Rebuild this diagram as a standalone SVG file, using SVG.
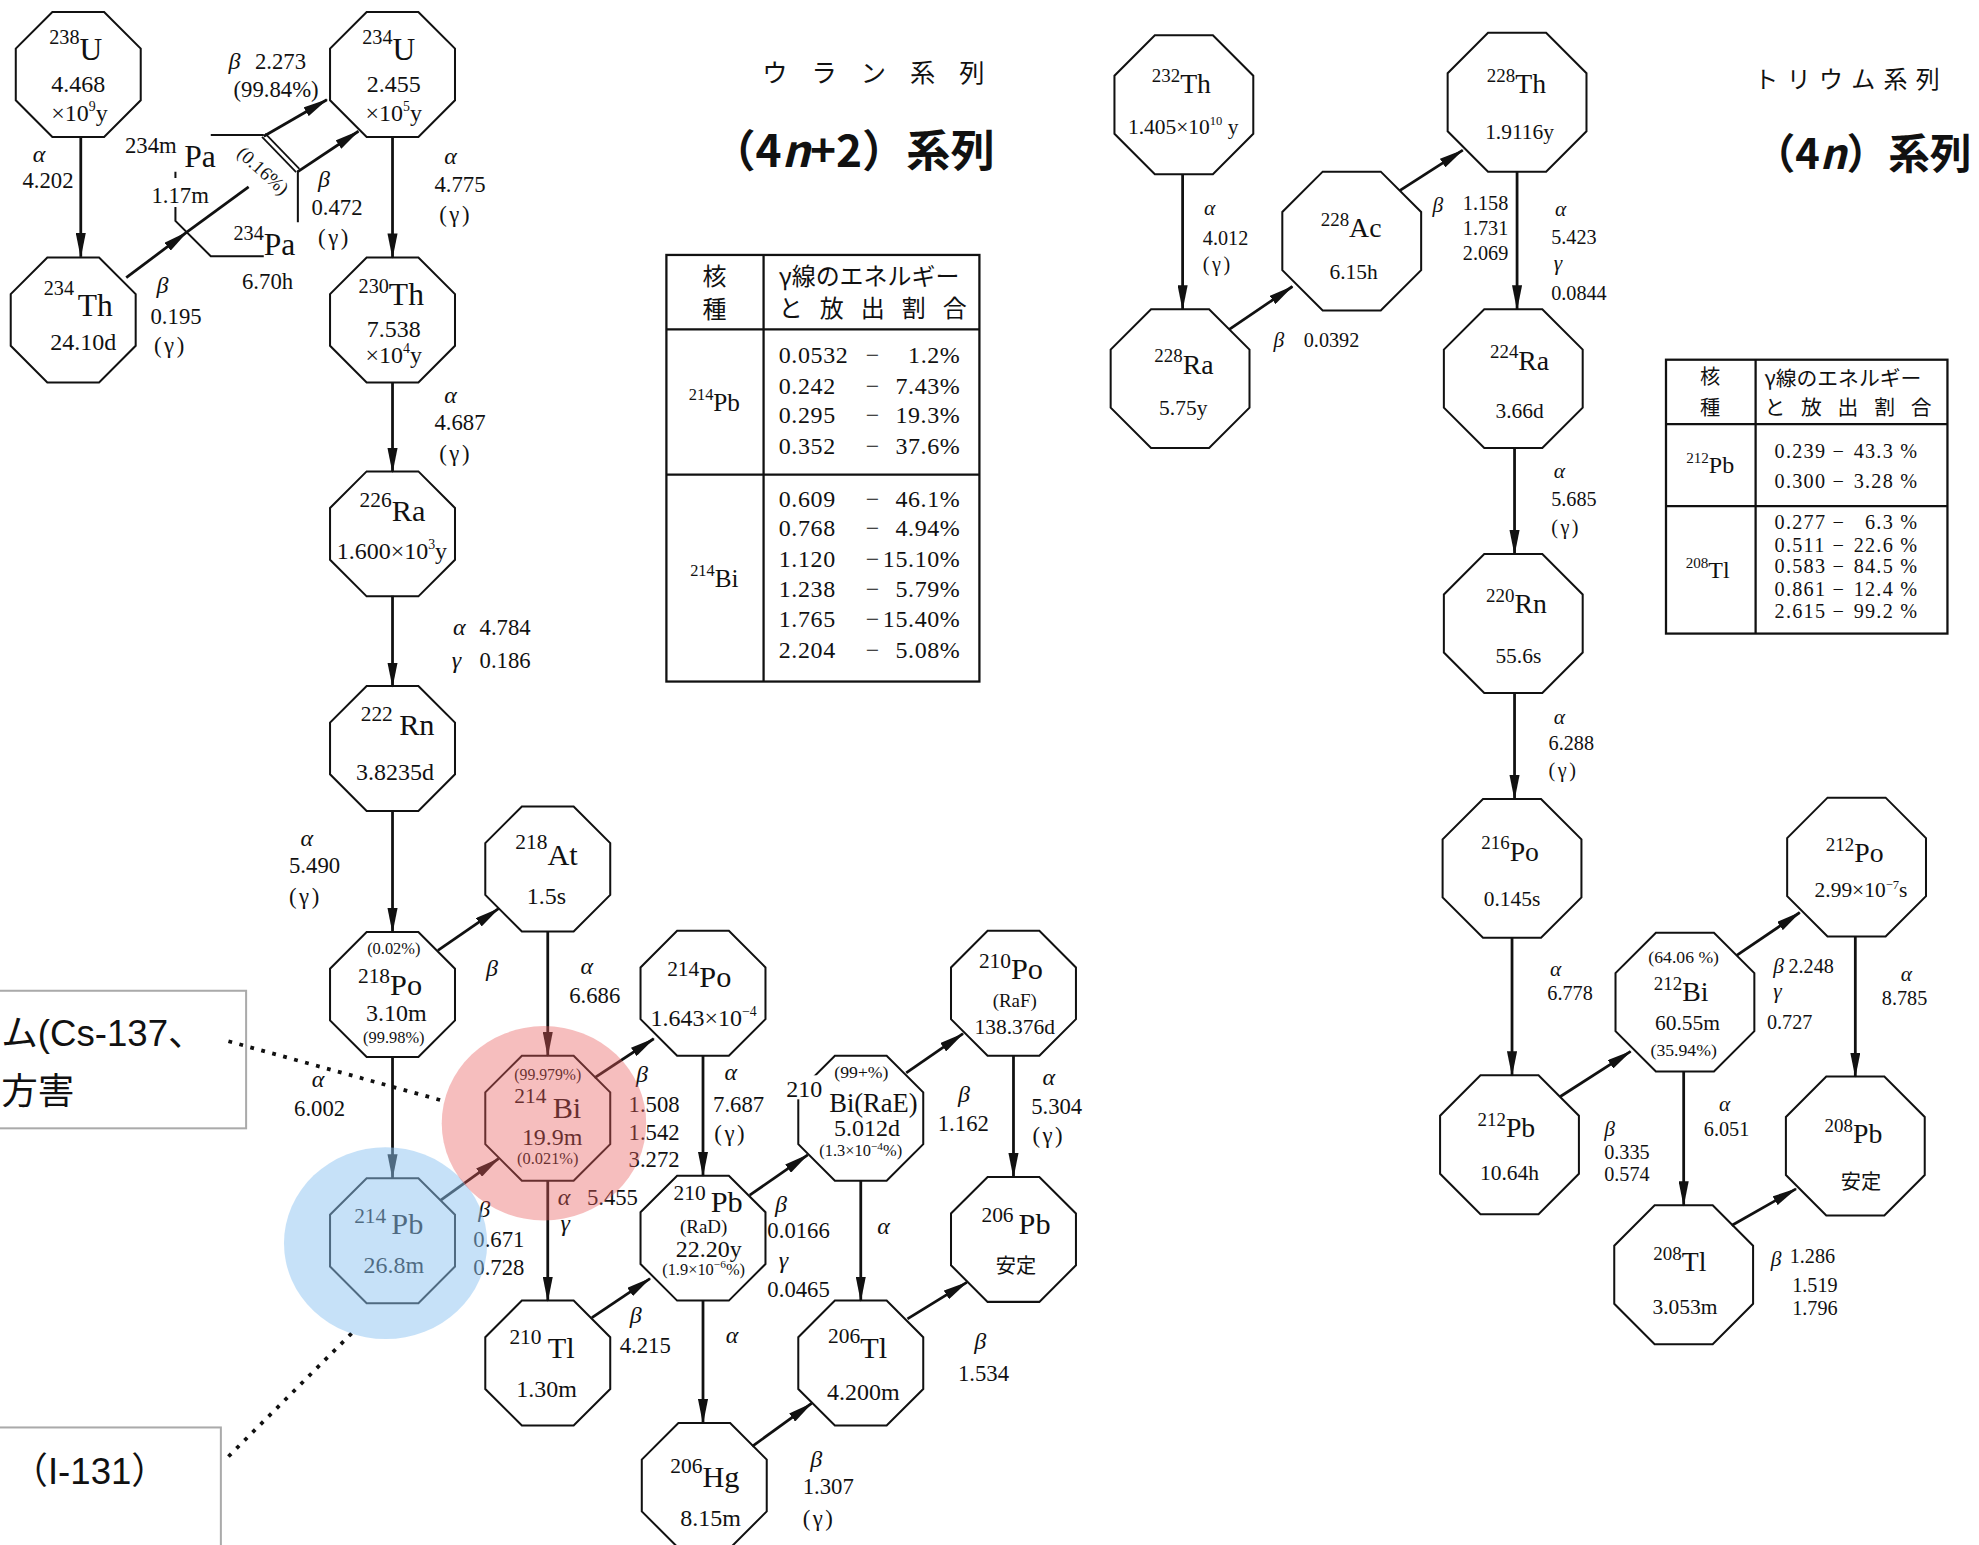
<svg xmlns="http://www.w3.org/2000/svg" width="1979" height="1545" viewBox="0 0 1979 1545">
<defs>
<style>
text{font-family:"Liberation Serif","DejaVu Serif",serif;fill:#111}
.o{fill:#fff;stroke:#111;stroke-width:1.6}
.a{stroke:#111;stroke-width:2.2;fill:none;marker-end:url(#ah)}
.l{stroke:#111;stroke-width:2.2;fill:none}
.c{text-anchor:middle}
.ue{font-size:25px}
.um{font-size:16px}
.uh{font-size:19px}
.up{font-size:13px}
.ud{font-size:18px}
.ug{font-size:19px;font-style:italic}
.le{font-size:24px}
.lm{font-size:17px}
.te{font-size:22px}
.tm{font-size:15px}
.th{font-size:17px}
.tp{font-size:14px}
.td{font-size:16px}
.tg{font-size:17px;font-style:italic}
.sp{letter-spacing:2px}
.jp{font-family:"Noto Sans CJK JP",sans-serif}
.tb{fill:none;stroke:#111;stroke-width:1.8}
.tv{font-size:19px;letter-spacing:0.5px}
.tv2{font-size:16px;letter-spacing:1px}
.note{font-family:"Liberation Sans","Noto Sans CJK JP",sans-serif;font-size:29px}
.box{fill:#fff;stroke:#aaa;stroke-width:1.6}
.dot{stroke:#111;stroke-width:3;stroke-dasharray:3 6;fill:none}
</style>
<path id="oU" d="M-20.5,-49.5H20.5L49.5,-20.5V20.5L20.5,49.5H-20.5L-49.5,20.5V-20.5Z"/>
<path id="oT" d="M-23,-55H23L55,-23V23L23,55H-23L-55,23V-23Z"/>
<marker id="ah" viewBox="0 0 20 8" refX="19" refY="4" markerWidth="20" markerHeight="8" markerUnits="userSpaceOnUse" orient="auto"><path d="M0,0L20,4L0,8Z" fill="#111"/></marker>
</defs>
<rect width="1979" height="1545" fill="#fff"/>
<g transform="scale(1.26212)">

<g id="nodes">
<g id="n-238U">
<use href="#oU" x="62" y="59" class="o"/>
<text class="c" x="60" y="47.5"><tspan class="um" dy="-13">238</tspan><tspan class="ue" dy="13">U</tspan></text>
<text class="c uh" x="62" y="73">4.468</text>
<text class="c uh" x="63" y="96">×10<tspan font-size="11" dy="-8">9</tspan><tspan dy="8">y</tspan></text>
</g>
<g id="n-234Th">
<use href="#oU" x="58" y="253.5" class="o"/>
<text class="c" x="62" y="250"><tspan class="um" dy="-16">234</tspan><tspan class="ue" dx="3" dy="16">Th</tspan></text>
<text class="c uh" x="66" y="277">24.10d</text>
</g>
<g id="n-234U">
<use href="#oU" x="311" y="59" class="o"/>
<text class="c" x="308" y="47.5"><tspan class="um" dy="-13">234</tspan><tspan class="ue" dy="13">U</tspan></text>
<text class="c uh" x="312" y="73">2.455</text>
<text class="c uh" x="312" y="96">×10<tspan font-size="11" dy="-8">5</tspan><tspan dy="8">y</tspan></text>
</g>
<g id="n-234Pa">
<path fill="none" stroke="#111" stroke-width="1.6" d="M167,107H209M236,135V176M209,203H167L139,175V164M139,141V136"/>
<line x1="210.2" y1="105.8" x2="237.2" y2="133.8" stroke="#111" stroke-width="1.4"/>
<line x1="207.6" y1="108.4" x2="234.6" y2="136.4" stroke="#111" stroke-width="1.4"/>
<text font-size="15" class="c" transform="translate(205,139) rotate(42)">(0.16%)</text>
<text x="99" y="121.5" font-size="18">234m</text>
<text x="146" y="132" class="ue">Pa</text>
<text x="120" y="161" font-size="18">1.17m</text>
<text x="185" y="202"><tspan class="um" dy="-12">234</tspan><tspan class="ue" dy="12">Pa</tspan></text>
<text class="c" x="212" y="229" font-size="18">6.70h</text>
</g>
<g id="n-230Th">
<use href="#oU" x="311" y="253.5" class="o"/>
<text class="c" x="310" y="242"><tspan class="um" dy="-10">230</tspan><tspan class="ue" dy="10">Th</tspan></text>
<text class="c uh" x="312" y="267">7.538</text>
<text class="c uh" x="312" y="288">×10<tspan font-size="11" dy="-8">4</tspan><tspan dy="8">y</tspan></text>
</g>
<g id="n-226Ra">
<use href="#oU" x="311" y="423" class="o"/>
<text class="c" x="311" y="413"><tspan class="lm" dy="-11">226</tspan><tspan class="le" dy="11">Ra</tspan></text>
<text class="c uh" x="310.5" y="443">1.600×10<tspan font-size="11" dy="-8">3</tspan><tspan dy="8">y</tspan></text>
</g>
<g id="n-222Rn">
<use href="#oU" x="311" y="593" class="o"/>
<text class="c" x="315" y="582.5"><tspan class="lm" dy="-11.5">222</tspan><tspan class="le" dx="5" dy="11.5">Rn</tspan></text>
<text class="c uh" x="313" y="618">3.8235d</text>
</g>
<g id="n-218Po">
<use href="#oU" x="311" y="788" class="o"/>
<text class="c up" x="312" y="756">(0.02%)</text>
<text class="c" x="309" y="788"><tspan class="lm" dy="-9">218</tspan><tspan class="le" dy="9">Po</tspan></text>
<text class="c uh" x="314" y="809">3.10m</text>
<text class="c up" x="312" y="826">(99.98%)</text>
</g>
<g id="n-218At">
<use href="#oU" x="434" y="688.5" class="o"/>
<text class="c" x="433" y="685"><tspan class="lm" dy="-12">218</tspan><tspan class="le" dy="12">At</tspan></text>
<text class="c uh" x="433" y="716">1.5s</text>
</g>
<g id="n-214Pb">
<use href="#oU" x="311" y="983" class="o"/>
<text class="c" x="308" y="978"><tspan class="lm" dy="-9">214</tspan><tspan class="le" dx="4" dy="9">Pb</tspan></text>
<text class="c uh" x="312" y="1009">26.8m</text>
</g>
<g id="n-214Bi">
<use href="#oU" x="434" y="886" class="o"/>
<text class="c" x="434" y="856" font-size="12.5">(99.979%)</text>
<text class="c" x="434" y="886"><tspan class="lm" dy="-12">214</tspan><tspan class="le" dx="5" dy="12">Bi</tspan></text>
<text class="c uh" x="437.5" y="907">19.9m</text>
<text class="c up" x="434" y="922">(0.021%)</text>
</g>
<g id="n-210Tl">
<use href="#oU" x="434" y="1080" class="o"/>
<text class="c" x="429.5" y="1076"><tspan class="lm" dy="-11">210</tspan><tspan class="le" dx="5" dy="11">Tl</tspan></text>
<text class="c uh" x="433" y="1107">1.30m</text>
</g>
<g id="n-214Po">
<use href="#oU" x="557" y="787" class="o"/>
<text class="c" x="554" y="782"><tspan class="lm" dy="-9">214</tspan><tspan class="le" dy="9">Po</tspan></text>
<text class="c uh" x="557.5" y="813">1.643×10<tspan font-size="11" dy="-8">−4</tspan></text>
</g>
<g id="n-210Pb">
<use href="#oU" x="557" y="981" class="o"/>
<text class="c" x="561" y="960"><tspan class="lm" dy="-9">210</tspan><tspan class="le" dx="4" dy="9">Pb</tspan></text>
<text class="c" x="557.5" y="977" font-size="15">(RaD)</text>
<text class="c uh" x="561.5" y="996">22.20y</text>
<text class="c up" x="557.5" y="1010">(1.9×10<tspan font-size="9" dy="-5">−6</tspan><tspan dy="5">%)</tspan></text>
</g>
<g id="n-206Hg">
<use href="#oU" x="558" y="1177" class="o"/>
<text class="c" x="558.5" y="1178"><tspan class="lm" dy="-11">206</tspan><tspan class="le" dy="11">Hg</tspan></text>
<text class="c uh" x="563" y="1209">8.15m</text>
</g>
<g id="n-210Bi">
<use href="#oU" x="682" y="886" class="o"/>
<rect x="620" y="852" width="33" height="19" fill="#fff"/>
<text class="c" x="682.5" y="854" font-size="14">(99+%)</text>
<text x="623" y="869" font-size="19">210</text>
<text x="657" y="881" font-size="21">Bi(RaE)</text>
<text class="c uh" x="687" y="900">5.012d</text>
<text class="c up" x="682" y="916">(1.3×10<tspan font-size="9" dy="-5">−4</tspan><tspan dy="5">%)</tspan></text>
</g>
<g id="n-206Tl">
<use href="#oU" x="682" y="1080" class="o"/>
<text class="c" x="679.5" y="1076"><tspan class="lm" dy="-12">206</tspan><tspan class="le" dy="12">Tl</tspan></text>
<text class="c uh" x="684" y="1109">4.200m</text>
</g>
<g id="n-210Po">
<use href="#oU" x="803" y="787" class="o"/>
<text class="c" x="801" y="776"><tspan class="lm" dy="-9">210</tspan><tspan class="le" dy="9">Po</tspan></text>
<text class="c" x="804" y="798" font-size="15">(RaF)</text>
<text class="c" x="804" y="819" font-size="17">138.376d</text>
</g>
<g id="n-206Pb">
<use href="#oU" x="803" y="982" class="o"/>
<text class="c" x="805" y="978"><tspan class="lm" dy="-10">206</tspan><tspan class="le" dx="4" dy="10">Pb</tspan></text>
<text class="c jp" x="805" y="1009" font-size="16">安定</text>
</g>

<g id="n-232Th">
<use href="#oT" x="938" y="83" class="o"/>
<text class="c" x="936" y="74"><tspan class="tm" dy="-9">232</tspan><tspan class="te" dy="9">Th</tspan></text>
<text class="c th" x="937.5" y="106">1.405×10<tspan font-size="10" dy="-7">10</tspan><tspan dy="7"> y</tspan></text>
</g>
<g id="n-228Ra">
<use href="#oT" x="935" y="300" class="o"/>
<text class="c" x="938" y="296"><tspan class="tm" dy="-9">228</tspan><tspan class="te" dy="9">Ra</tspan></text>
<text class="c th" x="937.5" y="329">5.75y</text>
</g>
<g id="n-228Ac">
<use href="#oT" x="1071" y="191" class="o"/>
<text class="c" x="1070.5" y="188"><tspan class="tm" dy="-9">228</tspan><tspan class="te" dy="9">Ac</tspan></text>
<text class="c th" x="1072.5" y="221">6.15h</text>
</g>
<g id="n-228Th">
<use href="#oT" x="1202" y="81" class="o"/>
<text class="c" x="1201.5" y="74"><tspan class="tm" dy="-9">228</tspan><tspan class="te" dy="9">Th</tspan></text>
<text class="c th" x="1204" y="110">1.9116y</text>
</g>
<g id="n-224Ra">
<use href="#oT" x="1199" y="300" class="o"/>
<text class="c" x="1204" y="293"><tspan class="tm" dy="-9">224</tspan><tspan class="te" dy="9">Ra</tspan></text>
<text class="c th" x="1204" y="331">3.66d</text>
</g>
<g id="n-220Rn">
<use href="#oT" x="1199" y="494" class="o"/>
<text class="c" x="1201.5" y="486"><tspan class="tm" dy="-9">220</tspan><tspan class="te" dy="9">Rn</tspan></text>
<text class="c th" x="1203" y="525">55.6s</text>
</g>
<g id="n-216Po">
<use href="#oT" x="1198" y="688" class="o"/>
<text class="c" x="1196.5" y="682"><tspan class="tm" dy="-9">216</tspan><tspan class="te" dy="9">Po</tspan></text>
<text class="c th" x="1198" y="718">0.145s</text>
</g>
<g id="n-212Pb">
<use href="#oT" x="1196" y="907" class="o"/>
<text class="c" x="1193.5" y="901"><tspan class="tm" dy="-9">212</tspan><tspan class="te" dy="9">Pb</tspan></text>
<text class="c th" x="1196" y="935">10.64h</text>
</g>
<g id="n-212Bi">
<use href="#oT" x="1335" y="794" class="o"/>
<text class="c tp" x="1334" y="763">(64.06 %)</text>
<text class="c" x="1332" y="793"><tspan class="tm" dy="-9">212</tspan><tspan class="te" dy="9">Bi</tspan></text>
<text class="c th" x="1337" y="816">60.55m</text>
<text class="c tp" x="1334" y="837">(35.94%)</text>
</g>
<g id="n-212Po">
<use href="#oT" x="1471" y="687" class="o"/>
<text class="c" x="1469.5" y="683"><tspan class="tm" dy="-9">212</tspan><tspan class="te" dy="9">Po</tspan></text>
<text class="c th" x="1474.5" y="711">2.99×10<tspan font-size="10" dy="-7">−7</tspan><tspan dy="7">s</tspan></text>
</g>
<g id="n-208Pb">
<use href="#oT" x="1470" y="908" class="o"/>
<text class="c" x="1468.5" y="906"><tspan class="tm" dy="-9">208</tspan><tspan class="te" dy="9">Pb</tspan></text>
<text class="c jp" x="1474.5" y="942" font-size="16">安定</text>
</g>
<g id="n-208Tl">
<use href="#oT" x="1334" y="1010" class="o"/>
<text class="c" x="1331" y="1007"><tspan class="tm" dy="-9">208</tspan><tspan class="te" dy="9">Tl</tspan></text>
<text class="c th" x="1335" y="1041">3.053m</text>
</g>
</g>

<g id="connectors">
<line class="a" x1="64" y1="108" x2="64" y2="203.5"/>
<line class="a" x1="100" y1="220" x2="148" y2="184"/>
<line class="l" x1="148" y1="184" x2="197" y2="148"/>
<line class="a" x1="209" y1="108" x2="259" y2="79"/>
<line class="a" x1="236" y1="136" x2="284" y2="104"/>
<line class="a" x1="311" y1="108.5" x2="311" y2="204"/>
<line class="a" x1="311" y1="303" x2="311" y2="374"/>
<line class="a" x1="311" y1="472" x2="311" y2="544"/>
<line class="a" x1="311" y1="642" x2="311" y2="738.5"/>
<line class="a" x1="347" y1="753" x2="395" y2="720"/>
<line class="a" x1="311" y1="837.5" x2="311" y2="933.5"/>
<line class="a" x1="434" y1="738" x2="434" y2="836.5"/>
<line class="a" x1="349" y1="951" x2="395" y2="918"/>
<line class="a" x1="471" y1="854" x2="518" y2="823"/>
<line class="a" x1="434" y1="935.5" x2="434" y2="1030.5"/>
<line class="a" x1="557" y1="836.5" x2="557" y2="931.5"/>
<line class="a" x1="469" y1="1044" x2="515" y2="1013"/>
<line class="a" x1="594" y1="947" x2="640" y2="915"/>
<line class="a" x1="557" y1="1030.5" x2="557" y2="1127.5"/>
<line class="a" x1="718" y1="850" x2="763" y2="819"/>
<line class="a" x1="682" y1="935.5" x2="682" y2="1030.5"/>
<line class="a" x1="803" y1="836.5" x2="803" y2="932.5"/>
<line class="a" x1="596" y1="1146" x2="643" y2="1112"/>
<line class="a" x1="719" y1="1045" x2="766" y2="1016"/>
<line class="a" x1="937" y1="138" x2="937" y2="245"/>
<line class="a" x1="974" y1="261" x2="1024" y2="227"/>
<line class="a" x1="1109" y1="151" x2="1159" y2="119"/>
<line class="a" x1="1202" y1="136" x2="1202" y2="245"/>
<line class="a" x1="1200" y1="355" x2="1200" y2="439"/>
<line class="a" x1="1200" y1="549" x2="1200" y2="633"/>
<line class="a" x1="1198" y1="743" x2="1198" y2="852"/>
<line class="a" x1="1236" y1="869" x2="1292" y2="833"/>
<line class="a" x1="1376" y1="757" x2="1426" y2="723"/>
<line class="a" x1="1470" y1="742" x2="1470" y2="853"/>
<line class="a" x1="1334" y1="849" x2="1334" y2="955"/>
<line class="a" x1="1372" y1="971" x2="1423" y2="942"/>
</g>

<g id="decay-labels">
<text class="ug" x="26" y="128">α</text>
<text class="ud c" x="38" y="149">4.202</text>
<text class="ug" x="181" y="55">β</text>
<text class="ud" x="202" y="55">2.273</text>
<text class="ud" x="185" y="77">(99.84%)</text>
<text class="ug" x="124" y="232">β</text>
<text class="ud c" x="139.5" y="257">0.195</text>
<text class="ud c sp" x="135" y="280">(γ)</text>
<text class="ug" x="252" y="148">β</text>
<text class="ud c" x="267" y="170">0.472</text>
<text class="ud c sp" x="265" y="194">(γ)</text>
<text class="ug" x="352" y="130">α</text>
<text class="ud c" x="364.5" y="152">4.775</text>
<text class="ud c sp" x="361" y="176">(γ)</text>
<text class="ug" x="352" y="319">α</text>
<text class="ud c" x="364.5" y="341">4.687</text>
<text class="ud c sp" x="361" y="365">(γ)</text>
<text class="ug" x="359" y="503">α</text>
<text class="ud" x="380" y="503">4.784</text>
<text class="ug" x="358" y="529">γ</text>
<text class="ud" x="380" y="529">0.186</text>
<text class="ug" x="238" y="670">α</text>
<text class="ud" x="229" y="692">5.490</text>
<text class="ud sp" x="229" y="716">(γ)</text>
<text class="ug" x="247" y="861">α</text>
<text class="ud" x="233" y="884">6.002</text>
<text class="ug" x="385" y="773">β</text>
<text class="ug" x="460" y="772">α</text>
<text class="ud" x="451" y="795">6.686</text>
<text class="ug" x="504" y="857">β</text>
<text class="ud" x="498" y="881">1.508</text>
<text class="ud" x="498" y="903">1.542</text>
<text class="ud" x="498" y="925">3.272</text>
<text class="ug" x="574" y="856">α</text>
<text class="ud" x="565" y="881">7.687</text>
<text class="ud sp" x="566" y="904">(γ)</text>
<text class="ug" x="442" y="955">α</text>
<text class="ud" x="465" y="955">5.455</text>
<text class="ug" x="444" y="975">γ</text>
<text class="ug" x="379" y="964">β</text>
<text class="ud" x="375" y="988">0.671</text>
<text class="ud" x="375" y="1010">0.728</text>
<text class="ug" x="499" y="1048">β</text>
<text class="ud" x="491" y="1072">4.215</text>
<text class="ug" x="614" y="960">β</text>
<text class="ud" x="608" y="981">0.0166</text>
<text class="ug" x="617" y="1005">γ</text>
<text class="ud" x="608" y="1028">0.0465</text>
<text class="ug" x="759" y="873">β</text>
<text class="ud" x="743" y="896">1.162</text>
<text class="ug" x="695" y="978">α</text>
<text class="ug" x="826" y="860">α</text>
<text class="ud" x="817" y="883">5.304</text>
<text class="ud sp" x="818" y="906">(γ)</text>
<text class="ug" x="575" y="1064">α</text>
<text class="ug" x="772" y="1069">β</text>
<text class="ud" x="759" y="1094">1.534</text>
<text class="ug" x="642" y="1162">β</text>
<text class="ud" x="636" y="1184">1.307</text>
<text class="ud sp" x="636" y="1209">(γ)</text>

<text class="tg" x="954" y="170">α</text>
<text class="td" x="953" y="194">4.012</text>
<text class="td sp" x="953" y="215">(γ)</text>
<text class="tg" x="1009" y="275">β</text>
<text class="td" x="1033" y="275">0.0392</text>
<text class="tg" x="1135" y="168">β</text>
<text class="td" x="1159" y="166">1.158</text>
<text class="td" x="1159" y="186">1.731</text>
<text class="td" x="1159" y="206">2.069</text>
<text class="tg" x="1232" y="171">α</text>
<text class="td" x="1229" y="193">5.423</text>
<text class="tg" x="1231" y="214">γ</text>
<text class="td" x="1229" y="238">0.0844</text>
<text class="tg" x="1231" y="379">α</text>
<text class="td" x="1229" y="401">5.685</text>
<text class="td sp" x="1229" y="423">(γ)</text>
<text class="tg" x="1231" y="574">α</text>
<text class="td" x="1227" y="594">6.288</text>
<text class="td sp" x="1227" y="616">(γ)</text>
<text class="tg" x="1228" y="773">α</text>
<text class="td" x="1226" y="792">6.778</text>
<text class="tg" x="1271" y="900">β</text>
<text class="td" x="1271" y="918">0.335</text>
<text class="td" x="1271" y="936">0.574</text>
<text class="tg" x="1362" y="880">α</text>
<text class="td" x="1350" y="900">6.051</text>
<text class="tg" x="1405" y="771">β</text>
<text class="td" x="1417" y="771">2.248</text>
<text class="tg" x="1405" y="791">γ</text>
<text class="td" x="1400" y="815">0.727</text>
<text class="tg" x="1506" y="777">α</text>
<text class="td" x="1491" y="796">8.785</text>
<text class="tg" x="1403" y="1003">β</text>
<text class="td" x="1418" y="1001">1.286</text>
<text class="td" x="1420" y="1024">1.519</text>
<text class="td" x="1420" y="1042">1.796</text>
</g>

<g id="titles">
<text class="jp" x="604" y="65" font-size="20" letter-spacing="19">ウラン系列</text>
<text class="jp" x="788" y="132" text-anchor="end" font-size="35" font-weight="bold">（4<tspan font-style="italic">n</tspan>+2）系列</text>
<text class="jp" x="1390" y="70" font-size="19" letter-spacing="6.6">トリウム系列</text>
<text class="jp" x="1562" y="134" text-anchor="end" font-size="33" font-weight="bold">（4<tspan font-style="italic">n</tspan>）系列</text>
</g>

<g id="table-4n2">
<rect class="tb" x="528" y="202" width="248" height="338"/>
<path class="tb" d="M605,202V540M528,261H776M528,376H776"/>
<text class="jp c" x="566" y="226" font-size="19">核</text>
<text class="jp c" x="566" y="252" font-size="19">種</text>
<text class="jp" x="617" y="226" font-size="19">γ線のエネルギー</text>
<text class="jp" x="617" y="251" font-size="19" letter-spacing="13.5">と放出割合</text>
<text class="c" x="566" y="326"><tspan font-size="13" dy="-9">214</tspan><tspan font-size="20" dy="9">Pb</tspan></text>
<text class="c" x="566" y="465"><tspan font-size="13" dy="-9">214</tspan><tspan font-size="20" dy="9">Bi</tspan></text>
<g class="tv">
<text x="617" y="288">0.0532</text><text x="686" y="288">−</text><text x="761" y="288" text-anchor="end">1.2%</text>
<text x="617" y="312">0.242</text><text x="686" y="312">−</text><text x="761" y="312" text-anchor="end">7.43%</text>
<text x="617" y="335">0.295</text><text x="686" y="335">−</text><text x="761" y="335" text-anchor="end">19.3%</text>
<text x="617" y="360">0.352</text><text x="686" y="360">−</text><text x="761" y="360" text-anchor="end">37.6%</text>
<text x="617" y="402">0.609</text><text x="686" y="402">−</text><text x="761" y="402" text-anchor="end">46.1%</text>
<text x="617" y="425">0.768</text><text x="686" y="425">−</text><text x="761" y="425" text-anchor="end">4.94%</text>
<text x="617" y="449">1.120</text><text x="686" y="449">−</text><text x="761" y="449" text-anchor="end">15.10%</text>
<text x="617" y="473">1.238</text><text x="686" y="473">−</text><text x="761" y="473" text-anchor="end">5.79%</text>
<text x="617" y="497">1.765</text><text x="686" y="497">−</text><text x="761" y="497" text-anchor="end">15.40%</text>
<text x="617" y="521">2.204</text><text x="686" y="521">−</text><text x="761" y="521" text-anchor="end">5.08%</text>
</g>
</g>

<g id="table-4n">
<rect class="tb" x="1320" y="285" width="223" height="217"/>
<path class="tb" d="M1391,285V502M1320,336H1543M1320,401H1543"/>
<text class="jp c" x="1355" y="304" font-size="16">核</text>
<text class="jp c" x="1355" y="329" font-size="16">種</text>
<text class="jp" x="1398" y="306" font-size="16.5">γ線のエネルギー</text>
<text class="jp" x="1398" y="329" font-size="16.5" letter-spacing="12.5">と放出割合</text>
<text class="c" x="1355" y="375"><tspan font-size="12" dy="-8">212</tspan><tspan font-size="19" dy="8">Pb</tspan></text>
<text class="c" x="1353" y="458"><tspan font-size="12" dy="-8">208</tspan><tspan font-size="19" dy="8">Tl</tspan></text>
<g class="tv2">
<text x="1406" y="363">0.239</text><text x="1452" y="363">−</text><text x="1520" y="363" text-anchor="end">43.3 %</text>
<text x="1406" y="387">0.300</text><text x="1452" y="387">−</text><text x="1520" y="387" text-anchor="end">3.28 %</text>
<text x="1406" y="419">0.277</text><text x="1452" y="419">−</text><text x="1520" y="419" text-anchor="end">6.3 %</text>
<text x="1406" y="437">0.511</text><text x="1452" y="437">−</text><text x="1520" y="437" text-anchor="end">22.6 %</text>
<text x="1406" y="454">0.583</text><text x="1452" y="454">−</text><text x="1520" y="454" text-anchor="end">84.5 %</text>
<text x="1406" y="472">0.861</text><text x="1452" y="472">−</text><text x="1520" y="472" text-anchor="end">12.4 %</text>
<text x="1406" y="490">2.615</text><text x="1452" y="490">−</text><text x="1520" y="490" text-anchor="end">99.2 %</text>
</g>
</g>

<g id="annotations">
<rect class="box" x="-3" y="785" width="198" height="109"/>
<text class="note" x="1" y="829">ム(Cs-137、</text>
<text class="note" x="1" y="875">方害</text>
<rect class="box" x="-3" y="1131" width="178" height="100"/>
<text class="note" x="9" y="1176">（I-131）</text>
<line class="dot" x1="181" y1="825" x2="354" y2="873"/>
<line class="dot" x1="181" y1="1154" x2="281" y2="1054"/>
</g>

<g id="highlights">
<ellipse cx="305.5" cy="985" rx="80.5" ry="76" fill="#8ec3f2" fill-opacity="0.5"/>
<ellipse cx="431" cy="890" rx="81" ry="77" fill="#e85c5c" fill-opacity="0.4"/>
</g>
</g>
</svg>
